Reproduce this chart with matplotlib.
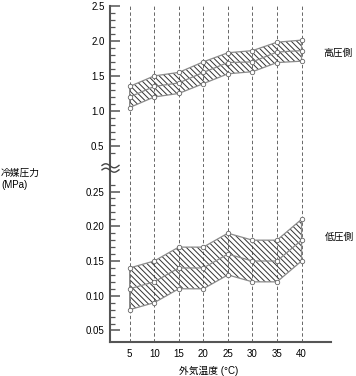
import numpy as np
import matplotlib
matplotlib.use('Agg')
import matplotlib.pyplot as plt
from matplotlib.lines import Line2D

plt.rcParams['font.family'] = ['Liberation Sans', 'Noto Sans CJK JP']
plt.rcParams['font.size'] = 7
plt.rcParams['hatch.linewidth'] = 0.7

# 外気温度
temps = [5, 10, 15, 20, 25, 30, 35, 40]
# 高圧側 (MPa)
high_max = [1.35, 1.50, 1.55, 1.70, 1.83, 1.86, 1.98, 2.01]
high_mid = [1.20, 1.35, 1.40, 1.55, 1.69, 1.70, 1.84, 1.86]
high_min = [1.05, 1.20, 1.25, 1.39, 1.53, 1.56, 1.69, 1.71]
# 低圧側 (MPa)
low_max = [0.14, 0.15, 0.17, 0.17, 0.19, 0.18, 0.18, 0.21]
low_mid = [0.11, 0.12, 0.14, 0.14, 0.16, 0.15, 0.15, 0.18]
low_min = [0.08, 0.09, 0.11, 0.11, 0.13, 0.12, 0.12, 0.15]

W, H = 356, 376
fig = plt.figure(figsize=(W / 100, H / 100), dpi=100)

left = 110 / W
width = 221 / W
ax_hi = fig.add_axes([left, 1 - 167.2 / H, width, 161.5 / H])
ax_lo = fig.add_axes([left, 1 - 342.3 / H, width, 175.1 / H])

spine_c = '#555555'
line_c = '#8a8a8a'
hatch_c = '#333333'


def draw_band(ax, lo, mid, hi):
    ax.fill_between(temps, lo, hi, facecolor='none', edgecolor=hatch_c,
                    hatch='\\' * 6, linewidth=0, zorder=2)
    ax.fill_between(temps, lo, hi, facecolor='none', edgecolor=line_c,
                    linewidth=0.9, zorder=3)
    ax.plot(temps, mid, color=line_c, lw=0.9, zorder=3)
    for s in (lo, mid, hi):
        ax.plot(temps, s, ls='none', marker='o', ms=3.2, mfc='white',
                mec='#666666', mew=0.6, zorder=4)


for ax in (ax_hi, ax_lo):
    ax.set_xlim(1, 46)
    for t in temps:
        ax.axvline(t, color='#666666', lw=0.7, ls=(0, (3.5, 2.5)), zorder=1)
    for side in ('top', 'right'):
        ax.spines[side].set_visible(False)
    ax.spines['left'].set_color(spine_c)
    ax.spines['left'].set_linewidth(1.5)
    ax.tick_params(axis='y', which='major', direction='in', length=7,
                   width=1.1, color=spine_c, pad=4, labelsize=7)
    ax.tick_params(axis='y', which='minor', direction='in', length=3.6,
                   width=0.9, color=spine_c)
    ax.patch.set_alpha(0)

draw_band(ax_hi, high_min, high_mid, high_max)
draw_band(ax_lo, low_min, low_mid, low_max)

ax_hi.set_ylim(0.2, 2.5)
ax_hi.set_yticks([0.5, 1.0, 1.5, 2.0, 2.5])
ax_hi.set_yticklabels(['0.5', '1.0', '1.5', '2.0', '2.5'])
ax_hi.set_yticks(np.arange(0.4, 2.45, 0.1), minor=True)
ax_hi.spines['bottom'].set_visible(False)
ax_hi.tick_params(axis='x', bottom=False, labelbottom=False)

ax_lo.set_ylim(0.033, 0.285)
ax_lo.set_yticks([0.05, 0.10, 0.15, 0.20, 0.25])
ax_lo.set_yticklabels(['0.05', '0.10', '0.15', '0.20', '0.25'])
ax_lo.set_yticks(np.arange(0.06, 0.265, 0.01), minor=True)
ax_lo.spines['bottom'].set_color(spine_c)
ax_lo.spines['bottom'].set_linewidth(1.5)
ax_lo.set_xticks(temps)
ax_lo.tick_params(axis='x', length=0, pad=5, labelsize=7)

# break mark
xs = np.linspace(-8, 9, 40)
for dy in (-2.2, 2.2):
    ys = 168 + dy + 2.0 * np.sin(xs / 17 * 2 * np.pi)
    fig.add_artist(Line2D((110 + xs) / W, 1 - ys / H, color='#444444',
                          lw=1.0, transform=fig.transFigure))

fig.text(323 / W, 1 - 53 / H, '高圧側', ha='left', va='center', fontsize=7)
fig.text(325 / W, 1 - 237 / H, '低圧側', ha='left', va='center', fontsize=7)
fig.text(1 / W, 1 - 172.7 / H, '冷媒圧力', ha='left', va='center', fontsize=7)
fig.text(1 / W, 1 - 184.5 / H, '(MPa)', ha='left', va='center', fontsize=7)
fig.text(209 / W, 1 - 370.7 / H, '外気温度 (°C)', ha='center', va='center',
         fontsize=7)

fig.savefig('out.png', dpi=100)
